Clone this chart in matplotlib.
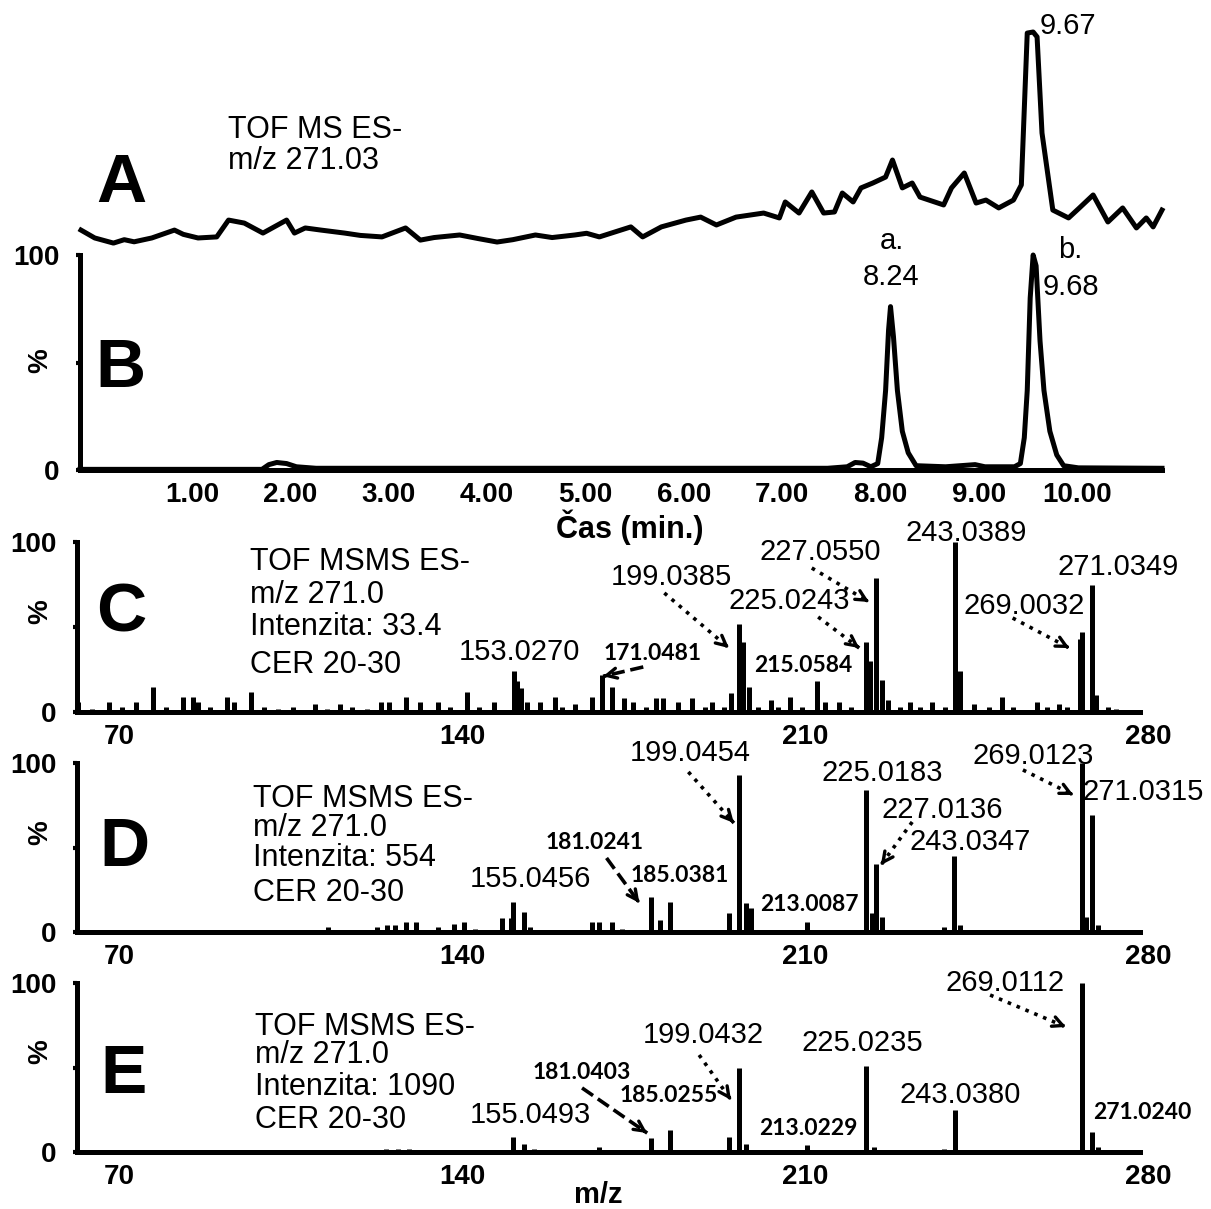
import matplotlib
matplotlib.use("Agg")
import matplotlib.pyplot as plt
from matplotlib.transforms import ScaledTranslation

plt.rcParams['font.family'] = 'Liberation Sans'

W, H = 1211, 1209

# ---- data -------------------------------------------------------------
# A: TOF MS ES- m/z 271.03 (relative, 9.67 peak = 100)
a_time = [0.01, 0.15, 0.34, 0.45, 0.55, 0.73, 0.96, 1.05, 1.20, 1.39,
          1.51, 1.67, 1.86, 2.10, 2.18, 2.29, 2.45, 2.69, 2.85, 3.07,
          3.31, 3.46, 3.60, 3.86, 4.05, 4.24, 4.40, 4.63, 4.80, 5.03,
          5.15, 5.28, 5.60, 5.72, 5.91, 6.16, 6.31, 6.47, 6.67, 6.95,
          7.11, 7.17, 7.31, 7.44, 7.56, 7.67, 7.75, 7.86, 7.94, 8.06,
          8.19, 8.26, 8.36, 8.46, 8.54, 8.78, 8.86, 8.99, 9.11, 9.21,
          9.34, 9.49, 9.57, 9.63, 9.69, 9.73, 9.78, 9.89, 10.05, 10.16,
          10.30, 10.45, 10.60, 10.74, 10.84, 10.91, 11.00]
a_int = [7.0, 3.3, 0.9, 2.5, 1.5, 3.3, 7.0, 5.0, 3.3, 3.8,
         11.7, 10.3, 5.6, 11.7, 5.6, 8.0, 7.0, 5.6, 4.5, 3.8,
         8.0, 2.3, 3.5, 4.7, 3.0, 1.4, 2.5, 4.7, 3.5, 4.7,
         5.5, 3.8, 8.5, 3.8, 8.5, 11.7, 13.1, 9.4, 13.1, 15.0,
         12.7, 20.2, 15.0, 24.9, 15.0, 15.5, 24.4, 20.2, 26.8, 29.1,
         31.9, 39.9, 26.8, 29.1, 22.5, 18.8, 26.8, 33.8, 19.7, 21.1,
         17.4, 21.1, 28.2, 99.5, 100.0, 97.7, 52.6, 16.4, 12.7, 17.4,
         23.5, 10.8, 17.4, 8.0, 12.7, 8.5, 16.4]

# B: chromatogram (%)
b_time = [0.0, 1.85, 1.92, 2.00, 2.10, 2.20, 2.40, 7.60, 7.80, 7.88,
          7.96, 8.04, 8.11, 8.15, 8.19, 8.22, 8.24, 8.27, 8.31, 8.36,
          8.42, 8.50, 8.80, 9.10, 9.20, 9.50, 9.56, 9.60, 9.63, 9.66,
          9.69, 9.72, 9.76, 9.80, 9.86, 9.93, 10.00, 10.15, 11.00]
b_int = [0.3, 0.3, 2.5, 3.5, 3.0, 1.5, 0.8, 0.8, 1.5, 3.5,
         3.2, 1.5, 3.0, 15.0, 37.0, 65.0, 76.0, 62.0, 37.0, 18.0,
         8.0, 2.0, 1.5, 2.5, 1.5, 1.5, 3.0, 15.0, 37.0, 80.0,
         100.0, 95.0, 60.0, 37.0, 18.0, 7.0, 2.0, 1.0, 0.8]

time_ticks = [1, 2, 3, 4, 5, 6, 7, 8, 9, 10]
time_labels = ['1.00', '2.00', '3.00', '4.00', '5.00', '6.00', '7.00', '8.00', '9.00', '10.00']
mz_ticks = [70, 140, 210, 280]

# C: MSMS, Intenzita 33.4
c_mz = [64.2, 67, 70.5, 73, 76, 79.5, 82, 85.5, 87.5, 88.5, 91, 94.5, 96, 99.5,
        102, 105, 108, 112.5, 115, 117.5, 120, 123, 126, 127.5, 131, 134, 137.5,
        140, 143.5, 146, 149, 153.03, 153.8, 154.5, 155.8, 158.5, 161.5, 163,
        165.5, 169, 171.05, 173.2, 175.5, 177.5, 180, 182, 183.5, 186.5, 189.5,
        192, 193.5, 196, 197.5, 199.04, 199.8, 201, 203, 205.5, 207, 209.5, 212,
        215.06, 216.5, 219.5, 222, 225.02, 225.7, 227.06, 228.2, 229.5, 232, 234,
        236, 238.5, 241, 243.04, 244.1, 247, 250, 252.7, 255, 259.8, 262, 264.3,
        266, 268.7, 269.0, 271.03, 272, 274.3, 276]
c_int = [6, 2, 6, 3, 6, 15, 3, 9, 9, 6, 3, 9, 6, 12,
         3, 2, 3, 5, 2, 5, 3, 2, 6, 6, 9, 6, 6,
         3, 12, 3, 6, 24, 18, 14, 6, 6, 9, 3,
         5, 9, 21.5, 15, 8, 6, 3, 8, 8, 6, 8,
         3, 6, 3, 11, 52, 41, 15, 3, 7, 3, 9, 3,
         18, 6, 6, 3, 41, 30, 79, 19, 7, 3, 6,
         3, 6, 3, 100, 24, 5, 3, 9, 3, 6, 3, 5,
         3, 43, 47, 75, 10, 3, 2]

# D: MSMS, Intenzita 554
d_mz = [115.2, 125.2, 127.2, 128.9, 131.1, 133.1, 137.5, 140.9, 142.9, 145.2,
        150.7, 152.4, 153.0, 155.05, 156.3, 158.5, 169.1, 170.5, 173.2, 175.1,
        181.02, 183.0, 185.04, 197.1, 199.05, 200.5, 201.4, 213.01, 225.02, 226.1,
        227.01, 228.2, 240.8, 243.03, 244.1, 269.01, 269.8, 271.03, 272.3]
d_int = [3, 3, 4, 4, 6, 6, 3, 5, 6, 2,
         8, 8, 18, 12, 3, 1, 6, 6, 6, 2,
         21, 7, 18, 11, 93, 17, 14, 6, 84, 11,
         40, 9, 3, 45, 4, 100, 9, 69, 4]

# E: MSMS, Intenzita 1090
e_mz = [115.2, 127.0, 129.5, 131.7, 153.0, 155.05, 157.1, 170.5, 181.04, 185.03,
        197.1, 199.04, 200.5, 213.02, 225.02, 226.5, 240.8, 243.04, 269.01, 271.02,
        272.3]
e_int = [1, 2, 2, 2, 9, 5, 2, 3, 8, 13,
         9, 50, 5, 4, 51, 3, 2, 25, 100, 12,
         3]

# ---- layout of annotations (data coords) ---------------------------------
c_labels = ['227.0550', '199.0385', '225.0243', '243.0389', '271.0349', '269.0032',
            '153.0270', '171.0481', '215.0584']
c_lab_xy = [(215.6, 94.1), (185.2, 79.4), (209.3, 65.3), (245.4, 105.3), (276.4, 85.3),
            (257.2, 62.4), (154.3, 35.3), (181.3, 34.7), (212.1, 27.6)]
c_bold = [0, 0, 0, 0, 0, 0, 0, 1, 1]
c_arrows = [((213.9, 84.7), (225.6, 64.7), ':'), ((183.8, 70.0), (197.0, 37.6), ':'),
            ((215.2, 55.9), (223.6, 37.6), ':'), ((254.9, 55.3), (266.5, 37.6), ':'),
            ((179.5, 26.5), (171.3, 21.0), '--')]

d_labels = ['199.0454', '225.0183', '227.0136', '243.0347', '269.0123', '271.0315',
            '181.0241', '185.0381', '213.0087', '155.0456']
d_lab_xy = [(189.1, 105.9), (228.2, 94.1), (240.5, 72.2), (246.2, 53.3), (259.1, 104.1),
            (281.5, 82.8), (169.5, 52.7), (187.0, 33.7), (213.5, 16.0), (156.4, 31.4)]
d_bold = [0, 0, 0, 0, 0, 0, 1, 1, 1, 0]
d_arrows = [((188.7, 94.7), (198.0, 64.5), ':'), ((234.4, 65.1), (228.0, 39.6), ':'),
            ((257.0, 95.9), (267.3, 81.1), ':'), ((172.0, 43.8), (178.7, 17.2), '--')]

e_labels = ['199.0432', '225.0235', '243.0380', '269.0112', '271.0240',
            '181.0403', '185.0255', '213.0229', '155.0493']
e_lab_xy = [(191.7, 69.2), (224.2, 64.5), (244.2, 33.7), (253.4, 100.0), (281.3, 23.1),
            (167.0, 47.3), (184.6, 33.7), (213.2, 14.2), (156.4, 21.9)]
e_bold = [0, 0, 0, 0, 1, 1, 1, 1, 0]
e_arrows = [((190.9, 57.4), (197.4, 30.8), ':'), ((250.3, 92.9), (265.8, 74.0), ':'),
            ((167.0, 37.9), (180.3, 11.2), '--')]


def fpos(x, y):
    return x / W, 1 - y / H


def rect(x0, x1, y_top, y_bot):
    return [x0 / W, 1 - y_bot / H, (x1 - x0) / W, (y_bot - y_top) / H]


fig = plt.figure(figsize=(W / 100, H / 100), dpi=100)

LW = 3.6
TICKFONT = dict(fontsize=20, fontweight='bold')


def style_axes(ax, dx):
    for s in ['top', 'right']:
        ax.spines[s].set_visible(False)
    for s in ['left', 'bottom']:
        ax.spines[s].set_linewidth(LW)
    ax.set_yticks([0, 50, 100])
    ax.set_yticklabels(['0', '', '100'], **TICKFONT)
    ax.tick_params(axis='y', length=3, width=3, pad=12)
    ax.tick_params(axis='x', length=0, pad=9)
    off = ScaledTranslation(dx / 100, 0, fig.dpi_scale_trans)
    for lab in ax.get_xticklabels():
        lab.set_fontsize(20)
        lab.set_fontweight('bold')
        lab.set_transform(lab.get_transform() + off)
    ax.patch.set_alpha(0)


# ---- A ----
axA = fig.add_axes(rect(80, 1162, 32, 245))
axA.plot(a_time, a_int, color='black', lw=LW, clip_on=False, solid_joinstyle='round')
axA.set_xlim(0, 11.0)
axA.set_ylim(0, 100)
axA.axis('off')
axA.text(10.04, 103, '9.67', fontsize=21, ha='center', va='center')

# ---- B ----
axB = fig.add_axes(rect(80, 1162, 255, 470))
axB.plot(b_time, b_int, color='black', lw=LW, clip_on=False, solid_joinstyle='round')
axB.set_xlim(0, 11.0)
axB.set_ylim(0, 100)
axB.set_xticks(time_ticks)
axB.set_xticklabels(time_labels)
style_axes(axB, 13.5)
axB.text(8.25, 106.5, 'a.', fontsize=21, ha='center', va='center')
axB.text(8.25, 89.8, '8.24', fontsize=21, ha='center', va='center')
axB.text(10.07, 102.3, 'b.', fontsize=21, ha='center', va='center')
axB.text(10.07, 85.0, '9.68', fontsize=21, ha='center', va='center')


def spectrum(ax, mz, inten, labels, lab_xy, bold, arrows):
    ax.vlines(mz, 0, inten, color='black', lw=LW, clip_on=False)
    ax.set_xlim(63.9, 280.9)
    ax.set_ylim(0, 100)
    ax.set_xticks(mz_ticks)
    ax.set_xticklabels([str(t) for t in mz_ticks])
    style_axes(ax, 12.3)
    for lab, (x, y), b in zip(labels, lab_xy, bold):
        if b:
            ax.text(x, y, lab, fontsize=16.5, family='Lato', fontweight='bold',
                    ha='center', va='center')
        else:
            ax.text(x, y, lab, fontsize=21, ha='center', va='center')
    for (x0, y0), (x1, y1), ls in arrows:
        ax.plot([x0, x1], [y0, y1], color='black', lw=2.6, linestyle=ls, clip_on=False)
        ax.annotate('', xy=(x1, y1), xytext=(x1 - 0.05 * (x1 - x0), y1 - 0.05 * (y1 - y0)),
                    arrowprops=dict(arrowstyle='->', lw=2.4, color='black',
                                    mutation_scale=18, shrinkA=0, shrinkB=0))


axC = fig.add_axes(rect(77, 1140, 542, 712))
spectrum(axC, c_mz, c_int, c_labels, c_lab_xy, c_bold, c_arrows)
axD = fig.add_axes(rect(77, 1140, 763, 932))
spectrum(axD, d_mz, d_int, d_labels, d_lab_xy, d_bold, d_arrows)
axE = fig.add_axes(rect(77, 1140, 983, 1152))
spectrum(axE, e_mz, e_int, e_labels, e_lab_xy, e_bold, e_arrows)

# ---- free text ----
for letter, (x, y) in zip('ABCDE', [(121, 184), (120, 369), (121, 614), (124, 848), (124, 1075)]):
    fig.text(*fpos(x, y), letter, fontsize=50, fontweight='bold', ha='center', va='center')

for y in [361, 612, 833, 1052]:
    fig.text(*fpos(40, y), '%', fontsize=20, fontweight='bold', rotation=90,
             ha='center', va='center')

fig.text(*fpos(228, 130), 'TOF MS ES-', fontsize=22, va='center')
fig.text(*fpos(228, 161), 'm/z 271.03', fontsize=22, va='center')

blocks = [(250, [562, 595, 627, 665], 'Intenzita: 33.4'),
          (253, [799, 828, 858, 893], 'Intenzita: 554'),
          (255, [1027, 1055, 1087, 1120], 'Intenzita: 1090')]
for x, ys, inten in blocks:
    for y, line in zip(ys, ['TOF MSMS ES-', 'm/z 271.0', inten, 'CER 20-30']):
        fig.text(*fpos(x, y), line, fontsize=22, va='center')

fig.text(*fpos(630, 527), 'Čas (min.)', fontsize=22, fontweight='bold', ha='center', va='center')
fig.text(*fpos(598, 1195), 'm/z', fontsize=21, fontweight='bold', ha='center', va='center')

fig.savefig('out.png', dpi=100)
